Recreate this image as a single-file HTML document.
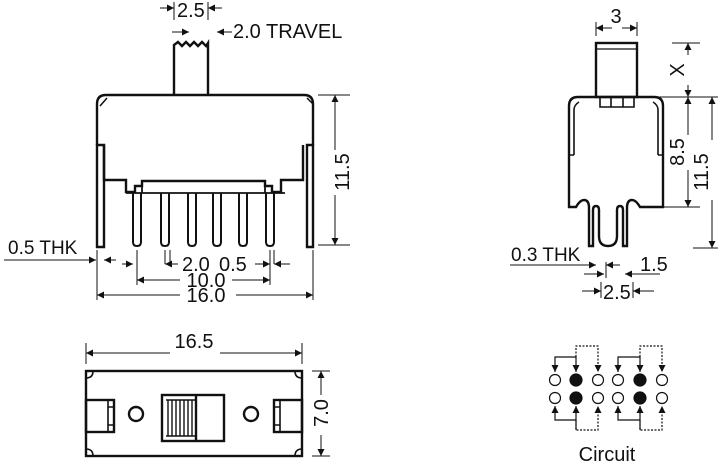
<!DOCTYPE html>
<html><head><meta charset="utf-8"><style>
body{margin:0;background:#fff}
svg{display:block}
text{font-family:"Liberation Sans",sans-serif;fill:#111}
</style></head><body>
<svg width="718" height="465" viewBox="0 0 718 465" xmlns="http://www.w3.org/2000/svg">
<defs>
<marker id="a" viewBox="0 0 10 10" refX="10" refY="5" markerWidth="11" markerHeight="7" orient="auto-start-reverse" markerUnits="userSpaceOnUse"><path d="M0,0L10,5L0,10z" fill="#111"/></marker>
</defs>
<g fill="none" stroke="#111" stroke-width="2.4">
<path d="M174,95V45l4,-3l4,4l4,-4l4,4l4,-4l4,4l4,-4l4,4l2,-3V95"/>
<path d="M97,145V104q0,-9,9,-9H304q9,0,9,9V145"/>
<path d="M100,106l7,-8M307,98l6,6" stroke-width="1.5"/>
<path d="M97,145h7v102h-7z"/>
<path d="M307,145h6v102h-6z"/>
<path d="M104,145V180h22v12h9v-6h7v-5h123v5h7v6h9v-12h22V145"/>
<path d="M142,181v12M265,181v12M126,193H285" stroke-width="1.8"/>
<g stroke-width="2">
<path d="M133,193v49q0,4,4,4q4,0,4,-4v-49"/>
<path d="M161,193v49q0,4,4,4q4,0,4,-4v-49"/>
<path d="M188,193v49q0,4,4,4q4,0,4,-4v-49"/>
<path d="M213,193v49q0,4,4,4q4,0,4,-4v-49"/>
<path d="M239,193v49q0,4,4,4q4,0,4,-4v-49"/>
<path d="M266,193v49q0,4,4,4q4,0,4,-4v-49"/>
</g>
</g>
<g stroke="#111" stroke-width="1" fill="none">
<path d="M174,2V20M208,2V20"/>
<path d="M160,8H174" marker-end="url(#a)"/><path d="M222,8H208" marker-end="url(#a)"/>
<path d="M172,32H189" marker-end="url(#a)"/><path d="M232,32H217" marker-end="url(#a)"/>
<path d="M318,95H350M318,245H350"/>
<path d="M335,150V95" marker-end="url(#a)"/><path d="M335,195V245" marker-end="url(#a)"/>
<path d="M4,260H96" marker-end="url(#a)"/><path d="M116,260H104" marker-end="url(#a)"/>
<path d="M122,264H133" marker-end="url(#a)"/><path d="M165,264V250M170,264V250M270,264V250M274,264V250"/>
<path d="M178,264H165" marker-end="url(#a)"/><path d="M255,264H270" marker-end="url(#a)"/><path d="M290,264H274" marker-end="url(#a)"/>
<path d="M137,250V285M270,250V285"/>
<path d="M180,280H137" marker-end="url(#a)"/><path d="M232,280H270" marker-end="url(#a)"/>
<path d="M97,250V300M313,250V300"/>
<path d="M180,295H97" marker-end="url(#a)"/><path d="M236,295H313" marker-end="url(#a)"/>
</g>
<text x="177" y="17" font-size="20">2.5</text>
<text x="233" y="38" font-size="20">2.0 TRAVEL</text>
<text transform="translate(349,172) rotate(-90)" font-size="20" text-anchor="middle">11.5</text>
<text x="8" y="254" font-size="19">0.5 THK</text>
<text x="182" y="271" font-size="20">2.0</text>
<text x="219" y="271" font-size="20">0.5</text>
<text x="206" y="287" font-size="20" text-anchor="middle">10.0</text>
<text x="206" y="302" font-size="20" text-anchor="middle">16.0</text>

<g fill="none" stroke="#111" stroke-width="2.4">
<rect x="596" y="43" width="41" height="54"/>
<path d="M597,49H636" stroke-width="1.2"/>
<path d="M569,207V106q0,-9,9,-9H654q9,0,9,9V207H640q-4,-7,-8,-7q-5,0,-5,8V246h-4V210q0,-4,-3,-4q-3,0,-3,4V236q0,10,-9,10q-9,0,-9,-10V210q0,-4,-3,-4q-3,0,-3,4V246h-4V208q0,-8,-5,-8q-4,0,-8,7z"/>
<path d="M574,155V110q0,-5,5,-8M658,155V110q0,-5,-5,-8M569,155h5M663,155h-5" stroke-width="1.6"/>
<path d="M600,97v10h34v-10M611,97v10M623,97v10" stroke-width="1.6"/>
</g>
<g stroke="#111" stroke-width="1" fill="none">
<path d="M596,22V36M637,22V36"/>
<path d="M612,28H596" marker-end="url(#a)"/><path d="M622,28H637" marker-end="url(#a)"/>
<path d="M672,43H700M640,97H718M660,207H700M693,248H718"/>
<path d="M688,55V43" marker-end="url(#a)"/><path d="M688,85V97" marker-end="url(#a)"/>
<path d="M688,135V97" marker-end="url(#a)"/><path d="M688,170V207" marker-end="url(#a)"/>
<path d="M712,140V97" marker-end="url(#a)"/><path d="M712,200V248" marker-end="url(#a)"/>
<path d="M510,265H596" marker-end="url(#a)"/><path d="M620,265H606" marker-end="url(#a)"/>
<path d="M584,274H604" marker-end="url(#a)"/><path d="M660,274H625" marker-end="url(#a)"/>
<path d="M582,291H601" marker-end="url(#a)"/><path d="M654,291H633" marker-end="url(#a)"/>
<path d="M601,282V298M633,282V298M606,262V278"/>
</g>
<text x="511" y="261" font-size="19">0.3 THK</text>
<text x="640" y="271" font-size="20">1.5</text>
<text x="603" y="299" font-size="20">2.5</text>
<text x="616" y="23" font-size="20" text-anchor="middle">3</text>
<text transform="translate(684,70) rotate(-90)" font-size="20" text-anchor="middle">X</text>
<text transform="translate(684,152) rotate(-90)" font-size="20" text-anchor="middle">8.5</text>
<text transform="translate(708,172) rotate(-90)" font-size="20" text-anchor="middle">11.5</text>

<g fill="none" stroke="#111" stroke-width="2.4">
<rect x="86" y="371" width="216" height="85"/>
<path d="M86,378q7,0,7,-7M295,371q0,7,7,7M86,449q7,0,7,7M302,449q-7,0,-7,7" stroke-width="1.6"/>
<rect x="86" y="400" width="28" height="32"/>
<path d="M108,400v32M108,407h6M108,425h6" stroke-width="1.6"/>
<rect x="274" y="400" width="28" height="32"/>
<path d="M280,400v32M274,407h6M274,425h6" stroke-width="1.6"/>
<circle cx="136" cy="414" r="7"/><circle cx="251" cy="414" r="7"/>
<rect x="162" y="395" width="62" height="46"/>
<path d="M196,395v46"/>
<path d="M166,400h30M166,436h30M168,400v36M172,400v36M176,400v36M180,400v36M184,400v36M188,400v36M192,400v36" stroke-width="1.4"/>
</g>
<g stroke="#111" stroke-width="1" fill="none">
<path d="M86,343V364M302,343V364"/>
<path d="M170,353H86" marker-end="url(#a)"/><path d="M220,353H302" marker-end="url(#a)"/>
<path d="M312,371H330M312,456H330"/>
<path d="M321,395V371" marker-end="url(#a)"/><path d="M321,435V456" marker-end="url(#a)"/>
</g>
<text x="194" y="348" font-size="20" text-anchor="middle">16.5</text>
<text transform="translate(328,413) rotate(-90)" font-size="20" text-anchor="middle">7.0</text>

<g stroke="#111" stroke-width="1.2">
<g fill="#fff">
<circle cx="555" cy="380" r="5.5"/><circle cx="598" cy="380" r="5.5"/><circle cx="618" cy="380" r="5.5"/><circle cx="662" cy="380" r="5.5"/>
<circle cx="555" cy="398" r="5.5"/><circle cx="598" cy="398" r="5.5"/><circle cx="618" cy="398" r="5.5"/><circle cx="662" cy="398" r="5.5"/>
</g>
<g fill="#111"><circle cx="576" cy="380" r="6"/><circle cx="640" cy="380" r="6"/><circle cx="576" cy="398" r="6"/><circle cx="640" cy="398" r="6"/></g>
<g fill="none">
<path d="M576,357H555V372" marker-end="url(#a)"/><path d="M576,357V372" marker-end="url(#a)"/>
<path d="M640,357H618V372" marker-end="url(#a)"/><path d="M640,357V372" marker-end="url(#a)"/>
<path d="M576,420H555V406" marker-end="url(#a)"/><path d="M576,430V406" marker-end="url(#a)"/>
<path d="M640,420H618V406" marker-end="url(#a)"/><path d="M640,430V406" marker-end="url(#a)"/>
<g stroke-dasharray="2,1.5"><path d="M576,357V346H598V372" marker-end="url(#a)"/><path d="M640,357V346H662V372" marker-end="url(#a)"/>
<path d="M576,420V430H598V406" marker-end="url(#a)"/><path d="M640,420V430H662V406" marker-end="url(#a)"/></g>
</g>
</g>
<text x="607" y="461" font-size="20" text-anchor="middle">Circuit</text>
</svg>
</body></html>
